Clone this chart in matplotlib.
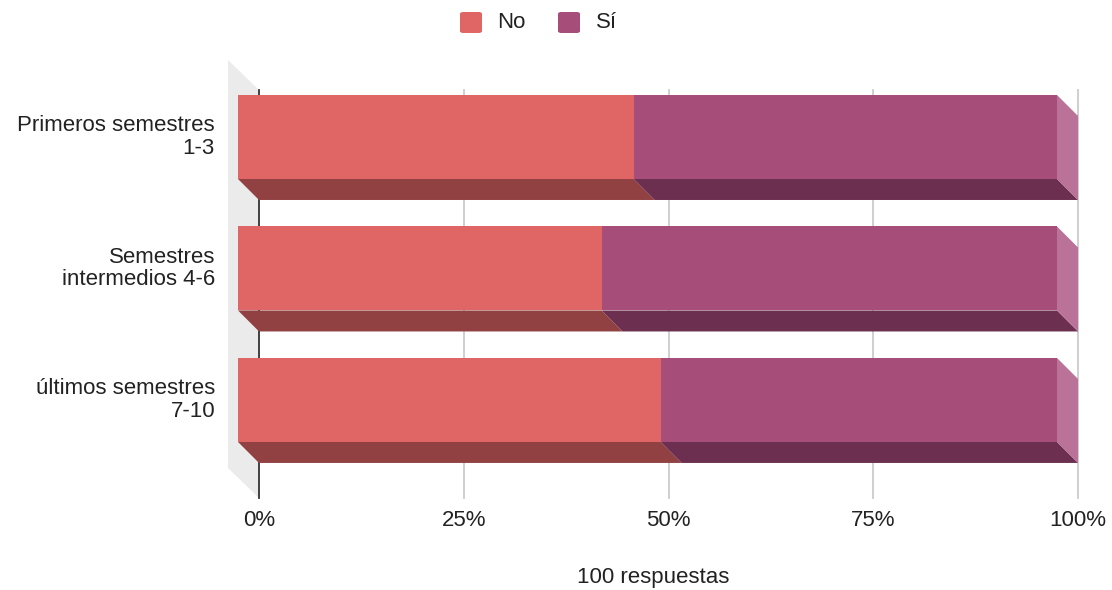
import matplotlib.pyplot as plt
from matplotlib.patches import Polygon, FancyBboxPatch

# data (percent of each group)
categories = ["Primeros semestres\n1-3", "Semestres\nintermedios 4-6", "últimos semestres\n7-10"]
series_names = ["No", "Sí"]
no_pct = [48.3, 44.4, 51.6]
si_pct = [51.7, 55.6, 48.4]
x_ticks = [0, 25, 50, 75, 100]
x_ticklabels = ["0%", "25%", "50%", "75%", "100%"]
footer = "100 respuestas"

front_colors = ["#e06666", "#a64d79"]
bottom_colors = ["#914141", "#6c2f4f"]
side_color = "#ba7298"
wall_color = "#ebebeb"
grid_color = "#cccccc"
text_color = "#222222"
fs = 16

W, H, DPI = 1112, 590, 100
plt.rcParams["font.family"] = ["Liberation Sans", "DejaVu Sans"]

fig = plt.figure(figsize=(W / DPI, H / DPI), dpi=DPI)
# back plane of the plot area in pixels
px_left, px_right, px_top, px_bottom = 259, 1078, 90, 498
ax = fig.add_axes([px_left / W, 1 - px_bottom / H,
                   (px_right - px_left) / W, (px_bottom - px_top) / H])
y_top, y_bottom = -0.517, 2.586
ax.set_xlim(0, 100)
ax.set_ylim(y_bottom, y_top)
ax.axis("off")

px_per_x = (px_right - px_left) / 100.0
px_per_y = (px_bottom - px_top) / (y_bottom - y_top)
depth = 21  # pixels
dx = depth / px_per_x
dy = depth / px_per_y
bar_h = 84 / px_per_y

# left wall
wall_dx = 31 / px_per_x
wall_dy = 30 / px_per_y
ax.add_patch(Polygon([(-wall_dx, y_top - wall_dy), (0, y_top),
                      (0, y_bottom), (-wall_dx, y_bottom - wall_dy)],
                     closed=True, facecolor=wall_color, edgecolor="none",
                     clip_on=False, zorder=0))

# grid
for t in x_ticks[1:]:
    ax.plot([t, t], [y_top, y_bottom], color=grid_color, lw=1.3, zorder=1, clip_on=False)
ax.plot([0, 0], [y_top, y_bottom], color="#333333", lw=1.3, zorder=1, clip_on=False)

for i, cat in enumerate(categories):
    c = i
    top, bot = c - bar_h / 2, c + bar_h / 2
    left = 0.0
    for j, vals in enumerate([no_pct, si_pct]):
        v = vals[i]
        right = left + v
        # bottom face
        ax.add_patch(Polygon([(left - dx, bot - dy), (right - dx, bot - dy),
                              (right, bot), (left, bot)],
                             closed=True, facecolor=bottom_colors[j], edgecolor="none",
                             clip_on=False, zorder=2))
        # front face
        ax.add_patch(Polygon([(left - dx, top - dy), (right - dx, top - dy),
                              (right - dx, bot - dy), (left - dx, bot - dy)],
                             closed=True, facecolor=front_colors[j], edgecolor="none",
                             clip_on=False, zorder=3))
        left = right
    # right side face
    ax.add_patch(Polygon([(left - dx, top - dy), (left, top), (left, bot), (left - dx, bot - dy)],
                         closed=True, facecolor=side_color, edgecolor="none",
                         clip_on=False, zorder=2))
    ax.text(-44 / px_per_x, c - dy, cat, ha="right", va="center",
            fontsize=fs, color=text_color, linespacing=1.12)

for t, lab in zip(x_ticks, x_ticklabels):
    ax.text(t, y_bottom + 23 / px_per_y, lab, ha="center", va="center",
            fontsize=fs, color=text_color)

fig.text(653 / W, 1 - 578 / H, footer, ha="center", va="center",
         fontsize=fs, color=text_color)

# legend
for name, col, sx, tx in zip(series_names, front_colors, [460, 558], [497, 596]):
    fig.patches.append(FancyBboxPatch((sx / W, 1 - 33 / H), 22 / W, 21 / H,
                                      boxstyle="round,pad=0,rounding_size=0.003",
                                      transform=fig.transFigure, facecolor=col,
                                      edgecolor="none", figure=fig))
    fig.text(tx / W, 1 - 22 / H, name, ha="left", va="center",
             fontsize=fs, color=text_color)

fig.savefig("out.png", dpi=DPI)
